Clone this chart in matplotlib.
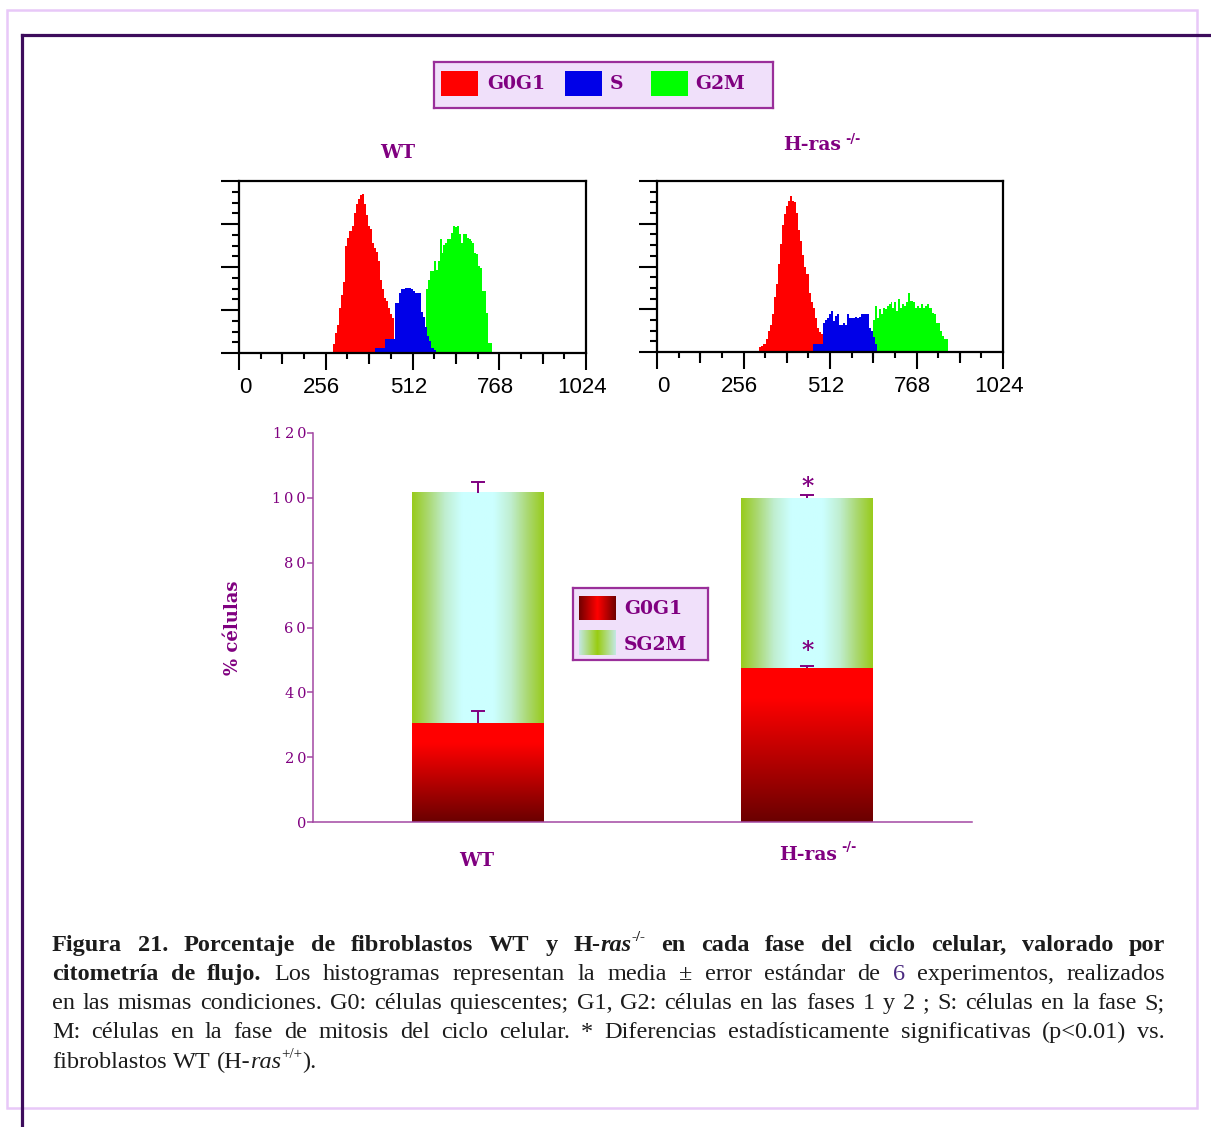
import numpy as np
import matplotlib
matplotlib.use("Agg")
import matplotlib.pyplot as plt
from matplotlib.colors import LinearSegmentedColormap
from matplotlib.patches import Rectangle
from matplotlib.lines import Line2D
from matplotlib.transforms import ScaledTranslation

# ---------------- data ----------------
channel_ticks = [0, 256, 512, 768, 1024]
phase_names = ["G0G1", "S", "G2M"]
phase_colors = ["#ff0000", "#0000e8", "#00ff00"]

# WT flow-cytometry histogram (DNA channel spans, counts per bin)
wt_g0g1_span = (278, 458)
wt_g0g1 = [10, 23, 33, 52, 68, 83, 124, 134, 142, 148, 163, 173, 179, 184, 185,
           173, 161, 148, 144, 128, 122, 118, 107, 85, 74, 64, 60, 52, 45, 41]
wt_s_span = (400, 580)
wt_s = [6, 6, 6, 6, 6, 16, 16, 16, 16, 16, 58, 58, 70, 74, 74, 76, 76, 76, 74,
        72, 70, 70, 70, 48, 42, 30, 20, 14, 6, 4]
wt_g2m_span = (552, 746)
wt_g2m = [74, 85, 95, 95, 107, 97, 107, 132, 116, 126, 128, 132, 132, 140, 148,
          146, 148, 138, 128, 138, 138, 134, 132, 130, 128, 116, 115, 101, 99,
          72, 72, 47, 12, 12]

# H-ras -/- histogram
ko_g0g1_span = (303, 497)
ko_g0g1 = [6, 7, 9, 15, 25, 32, 44, 64, 79, 103, 126, 149, 161, 171, 177, 182,
           177, 175, 163, 143, 130, 114, 99, 91, 69, 58, 52, 40, 28, 23, 21, 13]
ko_s_span = (463, 650)
ko_s = [9, 9, 9, 9, 9, 34, 38, 40, 44, 48, 36, 42, 44, 32, 32, 34, 32, 44, 40,
        40, 40, 41, 40, 41, 44, 44, 44, 44, 28, 25, 17, 9]
ko_g2m_span = (635, 860)
ko_g2m = [25, 38, 54, 40, 50, 44, 52, 50, 54, 56, 58, 52, 58, 48, 62, 52, 56, 54,
          58, 69, 60, 60, 58, 52, 54, 52, 56, 52, 54, 56, 52, 52, 46, 44, 34, 34,
          25, 19, 15, 15]

# stacked bar chart (% cells)
genotypes = ["WT", "H-ras"]
g0g1_pct = [30.5, 47.6]
sg2m_pct = [71.1, 52.4]
g0g1_sem = [3.8, 0.5]
total_sem = [3.4, 1.0]
g0g1_signif = [False, True]
total_signif = [False, True]
pct_ticks = [0, 20, 40, 60, 80, 100, 120]
bar_legend = ["G0G1", "SG2M"]

caption_runs = [
    [("Figura 21. Porcentaje de fibroblastos WT y H-", "b"), ("ras", "bi"), ("-/-", "bsup"),
     (" en cada fase del ciclo celular, valorado por", "b")],
    [("citometría de flujo.", "b"), (" Los histogramas representan la media ", "r"),
     ("±", "r"), (" error estándar de ", "r"), ("6", "c"), (" experimentos, realizados", "r")],
    [("en las mismas condiciones. G0: células quiescentes; G1, G2: células en las fases 1 y 2 ; S: células en la fase S;", "r")],
    [("M: células en la fase de mitosis del ciclo celular. * Diferencias estadísticamente significativas (p<0.01) vs.", "r")],
    [("fibroblastos WT (H-", "r"), ("ras", "i"), ("+/+", "rsup"), (").", "r")],
]

# ---------------- figure ----------------
W, H = 1211, 1127
fig = plt.figure(figsize=(W / 100, H / 100), dpi=100)
renderer = fig.canvas.get_renderer()
PURPLE = "#800080"
AXPURPLE = "#a348a3"
LAV = "#f0e0fa"
BOXEDGE = "#9a2f9a"
SERIF_B = dict(family="DejaVu Serif", fontweight="bold", color=PURPLE)


def frect(l, t, r, b):
    return [l / W, 1 - b / H, (r - l) / W, (b - t) / H]


def P(x, y):
    return (x / W, 1 - y / H)


# page frames
fig.add_artist(Rectangle(P(7, 1108), 1190 / W, 1098 / H, transform=fig.transFigure,
                         fill=False, ec="#e8c8f8", lw=1.8))
fig.add_artist(Line2D([22 / W, 1], [1 - 35 / H] * 2, transform=fig.transFigure,
                      color="#3d0c5c", lw=2.3))
fig.add_artist(Line2D([22 / W] * 2, [1 - 35 / H, 0], transform=fig.transFigure,
                      color="#3d0c5c", lw=2.3))


def sup_label(xc, y, main, sup, size, sup_dy=6, gap=4):
    t1 = fig.text(0, 0, main, fontsize=size, va="center", ha="left", **SERIF_B)
    t2 = fig.text(0, 0, sup, fontsize=size * 0.68, va="center", ha="left", **SERIF_B)
    w1 = t1.get_window_extent(renderer).width
    w2 = t2.get_window_extent(renderer).width
    x0 = xc - (w1 + gap + w2) / 2
    t1.set_position(P(x0, y))
    t2.set_position(P(x0 + w1 + gap, y - sup_dy))


# ---------------- top legend ----------------
axtl = fig.add_axes(frect(434, 62, 773, 108))
axtl.set_xlim(0, 339)
axtl.set_ylim(46, 0)
axtl.set_facecolor(LAV)
axtl.set_xticks([])
axtl.set_yticks([])
for s in axtl.spines.values():
    s.set_color(BOXEDGE)
    s.set_linewidth(1.6)
for k, (name, col) in enumerate(zip(phase_names, phase_colors)):
    px = [7, 131, 217][k]
    tx = [53, 176, 261][k]
    axtl.add_patch(Rectangle((px, 8.5), 37, 25, color=col, lw=0))
    axtl.text(tx, 22, name, va="center", ha="left", fontsize=13.5, **SERIF_B)

# ---------------- histograms ----------------
hist_data = [
    [(wt_g0g1_span, wt_g0g1), (wt_s_span, wt_s), (wt_g2m_span, wt_g2m)],
    [(ko_g0g1_span, ko_g0g1), (ko_s_span, ko_s), (ko_g2m_span, ko_g2m)],
]
hist_rects = [frect(239, 181, 586, 353), frect(657, 181, 1003, 352)]
for rect, phases in zip(hist_rects, hist_data):
    ax = fig.add_axes(rect)
    for k in [0, 2, 1]:
        (lo, hi), vals = phases[k]
        edges = np.linspace(lo, hi, len(vals) + 1)
        ax.stairs(vals, edges, fill=True, color=phase_colors[k], lw=0, zorder=2)
    ax.set_xlim(0, 1024)
    ax.set_ylim(0, 200)
    for s in ax.spines.values():
        s.set_linewidth(1.6)
        s.set_color("black")
    ax.set_xticks(channel_ticks)
    ax.set_xticklabels([str(c) for c in channel_ticks], family="Liberation Sans", fontsize=16)
    ax.set_xticks(np.arange(0, 1025, 64), minor=True)
    ax.set_yticks(np.arange(0, 201, 50))
    ax.set_yticklabels([])
    ax.set_yticks(np.arange(0, 201, 12.5), minor=True)
    ax.tick_params(axis="x", which="major", length=12, width=1.5, pad=5.5)
    ax.tick_params(axis="x", which="minor", length=4.5, width=1.5)
    ax.tick_params(axis="y", which="major", length=13, width=1.5)
    ax.tick_params(axis="y", which="minor", length=5, width=1.5)
    labs = ax.get_xticklabels()
    labs[0].set_ha("left")
    for lab in labs[1:]:
        lab.set_transform(lab.get_transform() + ScaledTranslation(-4 / 100, 0, fig.dpi_scale_trans))
    sec = ax.secondary_xaxis("bottom")
    sec.set_xticks([128, 384, 640, 896])
    sec.set_xticklabels([])
    sec.tick_params(length=8, width=1.5)
    sec.spines["bottom"].set_visible(False)

fig.text(398 / W, 1 - 153 / H, "WT", fontsize=13.5, ha="center", va="center", **SERIF_B)
sup_label(822, 145, "H-ras", "-/-", 13.5)

# ---------------- stacked bar chart ----------------
cm_g0g1_v = LinearSegmentedColormap.from_list(
    "g0v", [(0, "#6a0000"), (0.8, "#ff0000"), (1, "#ff0000")])
cm_sg2m_h = LinearSegmentedColormap.from_list(
    "sgh", [(0, "#98cb1c"), (0.12, "#aad870"), (0.25, "#c0eed0"), (0.38, "#ccffff"),
            (0.62, "#ccffff"), (0.75, "#c0eed0"), (0.88, "#aad870"), (1, "#98cb1c")])
cm_leg_g0g1 = LinearSegmentedColormap.from_list(
    "lg0", [(0, "#700000"), (0.5, "#ff0000"), (1, "#700000")])
cm_leg_sg2m = LinearSegmentedColormap.from_list(
    "lsg", [(0, "#c4e8e4"), (0.5, "#99cc11"), (1, "#c4e8e4")])


def grad(ax, x0, x1, y0, y1, cmap, direction, z=2):
    g = np.linspace(0, 1, 256)
    g = g.reshape(-1, 1) if direction == "v" else g.reshape(1, -1)
    ax.imshow(g, extent=(x0, x1, y0, y1), origin="lower", aspect="auto",
              cmap=cmap, interpolation="bilinear", zorder=z)


axb = fig.add_axes(frect(313, 433, 972, 822))
xpos = np.arange(len(genotypes))
bw = 0.4
for i in xpos:
    grad(axb, i - bw / 2, i + bw / 2, 0, g0g1_pct[i], cm_g0g1_v, "v")
    grad(axb, i - bw / 2, i + bw / 2, g0g1_pct[i], g0g1_pct[i] + sg2m_pct[i], cm_sg2m_h, "h")

tops_g = np.array(g0g1_pct)
tops_t = np.array(g0g1_pct) + np.array(sg2m_pct)
for tops, errs, sig, off in [(tops_g, g0g1_sem, g0g1_signif, 6), (tops_t, total_sem, total_signif, 0.5)]:
    caps = tops + np.array(errs)
    axb.vlines(xpos, tops, caps, color=PURPLE, lw=1.4, zorder=4)
    axb.plot(xpos, caps, ls="none", marker="_", ms=9.5, mew=1.4, color=PURPLE, zorder=4)
    for i in xpos:
        if sig[i]:
            axb.annotate("*", xy=(i, caps[i]), xytext=(0, off), textcoords="offset points",
                         ha="center", va="baseline", fontsize=17, zorder=5, **SERIF_B)

axb.set_xlim(-0.5, 1.5)
axb.set_ylim(0, 120)
axb.set_xticks([])
axb.set_yticks(pct_ticks)
axb.set_yticklabels(["\u2009".join(str(v)) for v in pct_ticks], family="DejaVu Serif")
axb.tick_params(axis="y", length=4, width=1.1, color=AXPURPLE, labelcolor=PURPLE,
                pad=1.0, labelsize=10.5)
for side in ["top", "right"]:
    axb.spines[side].set_visible(False)
for side in ["left", "bottom"]:
    axb.spines[side].set_color(AXPURPLE)
    axb.spines[side].set_linewidth(1.1)

fig.text(233 / W, 1 - 628 / H, "% células", rotation=90, fontsize=13, ha="center",
         va="center", **SERIF_B)
fig.text(477 / W, 1 - 861 / H, "WT", fontsize=13.5, ha="center", va="center", **SERIF_B)
sup_label(818, 855, "H-ras", "-/-", 13.5, sup_dy=7)

# legend of bar chart
axl = fig.add_axes(frect(573, 588, 708, 660))
axl.set_zorder(5)
axl.set_xlim(0, 135)
axl.set_ylim(72, 0)
axl.set_facecolor(LAV)
axl.set_xticks([])
axl.set_yticks([])
for s in axl.spines.values():
    s.set_color(BOXEDGE)
    s.set_linewidth(1.6)
grad(axl, 6, 43, 32, 8, cm_leg_g0g1, "h")
grad(axl, 6, 43, 67, 42, cm_leg_sg2m, "h")
axl.set_xlim(0, 135)
axl.set_ylim(72, 0)
axl.text(51, 21, bar_legend[0], va="center", ha="left", fontsize=13.5, **SERIF_B)
axl.text(51, 57, bar_legend[1], va="center", ha="left", fontsize=13.5, **SERIF_B)

# ---------------- caption (justified) ----------------
INK = "#1c1c1c"
style_map = {
    "b": dict(weight="bold", style="normal", sup=False, color=INK),
    "bi": dict(weight="bold", style="italic", sup=False, color=INK),
    "bsup": dict(weight="bold", style="normal", sup=True, color=INK),
    "r": dict(weight="normal", style="normal", sup=False, color=INK),
    "i": dict(weight="normal", style="italic", sup=False, color=INK),
    "rsup": dict(weight="normal", style="normal", sup=True, color=INK),
    "c": dict(weight="normal", style="normal", sup=False, color="#4b2a80"),
}


def split_words(runs):
    words = [[]]
    for text, st in runs:
        parts = text.split(" ")
        for j, p in enumerate(parts):
            if j > 0:
                words.append([])
            if p:
                words[-1].append((p, st))
    return [w for w in words if w]


CAP_L, CAP_R = 52, 1165
cap_base = [951, 980, 1009, 1038, 1068]
fs = 17.5
SUPF = 0.62
MINGAP = 5.0
arts = []
for runs in caption_runs:
    line = []
    for w in split_words(runs):
        segs = []
        for s, st in w:
            d = style_map[st]
            t = fig.text(0, 0, s, family="Liberation Serif",
                         fontsize=fs * (SUPF if d["sup"] else 1),
                         fontweight=d["weight"], fontstyle=d["style"], color=d["color"],
                         va="baseline", ha="left")
            segs.append((t, d["sup"]))
        line.append(segs)
    arts.append(line)


def measure():
    return [[[t.get_window_extent(renderer).width for t, _ in w] for w in line] for line in arts]


widths = measure()
avail = CAP_R - CAP_L
scale = 1.0
for line in widths[:-1]:
    tot = sum(sum(w) for w in line)
    scale = min(scale, (avail - MINGAP * (len(line) - 1)) / tot)
if scale < 1:
    fs *= scale
    for line in arts:
        for w in line:
            for t, sp in w:
                t.set_fontsize(fs * (SUPF if sp else 1))
    widths = measure()

for li, (line, wl) in enumerate(zip(arts, widths)):
    tot = sum(sum(w) for w in wl)
    if li < len(arts) - 1:
        gap = (avail - tot) / (len(line) - 1)
    else:
        gap = fs * 0.25 * 100 / 72
    x = CAP_L
    base = cap_base[li]
    for w, ww in zip(line, wl):
        for (t, sp), segw in zip(w, ww):
            t.set_position(P(x, base - (fs * 0.42 * 100 / 72 if sp else 0)))
            x += segw
        x += gap

fig.savefig("out.png", dpi=100)
